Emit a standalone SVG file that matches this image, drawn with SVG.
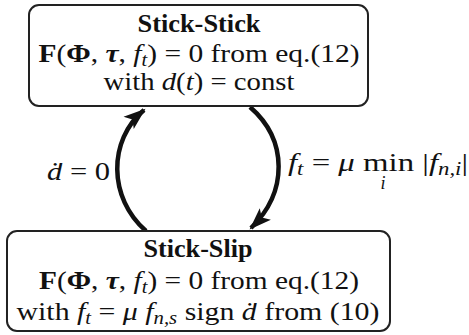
<svg xmlns="http://www.w3.org/2000/svg" width="469" height="335" viewBox="0 0 469 335">
<style>
text{font-family:"Liberation Serif","DejaVu Serif",serif;fill:#111;}
.t{font-size:26px;text-anchor:middle;}
.b{font-weight:bold;}
.i{font-style:italic;}
.box{fill:#fff;stroke:#222;stroke-width:2;}
.arc{fill:none;stroke:#111;stroke-width:4.5;}
</style>
<defs>
<marker id="ah" markerUnits="userSpaceOnUse" markerWidth="24" markerHeight="20" viewBox="0 -10 24 20" refX="20" refY="0" orient="auto">
<path d="M0,-8 L22,0 L0,8 L5,0 Z" fill="#111"/>
</marker>
</defs>
<g id="connectors">
<path class="arc" d="M146,231 C108,198 108,140 144,110" marker-end="url(#ah)"/>
<path class="arc" d="M250,107 C288,140 288,192 251,228" marker-end="url(#ah)"/>
</g>
<g id="node-stick-stick">
<rect class="box" x="29" y="5" width="339" height="101" rx="10"/>
<text class="t b" x="199" y="32" textLength="123" lengthAdjust="spacingAndGlyphs">Stick-Stick</text>
<text class="t" x="199" y="62" textLength="321" lengthAdjust="spacingAndGlyphs"><tspan class="b">F</tspan>(<tspan class="b">Φ</tspan>, <tspan class="b i">τ</tspan>, <tspan class="i">f</tspan><tspan class="i" font-size="18" dy="4">t</tspan><tspan dy="-4">) = 0 from eq.(12)</tspan></text>
<text class="t" x="199" y="90" textLength="191" lengthAdjust="spacingAndGlyphs">with <tspan class="i">d</tspan>(<tspan class="i">t</tspan>) = const</text>
</g>
<g id="node-stick-slip">
<rect class="box" x="7" y="231" width="383" height="100" rx="10"/>
<text class="t b" x="198" y="257" textLength="109" lengthAdjust="spacingAndGlyphs">Stick-Slip</text>
<text class="t" x="199" y="289" textLength="320" lengthAdjust="spacingAndGlyphs"><tspan class="b">F</tspan>(<tspan class="b">Φ</tspan>, <tspan class="b i">τ</tspan>, <tspan class="i">f</tspan><tspan class="i" font-size="18" dy="4">t</tspan><tspan dy="-4">) = 0 from eq.(12)</tspan></text>
<text class="t" x="198" y="320" textLength="363" lengthAdjust="spacingAndGlyphs">with <tspan class="i">f</tspan><tspan class="i" font-size="18" dy="4">t</tspan><tspan dy="-4"> = </tspan><tspan class="i">μ f</tspan><tspan class="i" font-size="18" dy="4">n,s</tspan><tspan dy="-4"> sign </tspan><tspan class="i">ḋ</tspan> from (10)</text>
</g>
<g id="labels">
<text x="47" y="180" font-size="26" textLength="63" lengthAdjust="spacingAndGlyphs"><tspan class="i">ḋ</tspan> = 0</text>
<text x="288" y="171" font-size="26" textLength="180" lengthAdjust="spacingAndGlyphs"><tspan class="i">f</tspan><tspan class="i" font-size="18" dy="4">t</tspan><tspan dy="-4"> = </tspan><tspan class="i">μ</tspan> min  |<tspan class="i">f</tspan><tspan class="i" font-size="18" dy="4">n,i</tspan><tspan dy="-4">|</tspan></text>
<text x="383" y="189" font-size="18" class="i" text-anchor="middle">i</text>
</g>
</svg>
